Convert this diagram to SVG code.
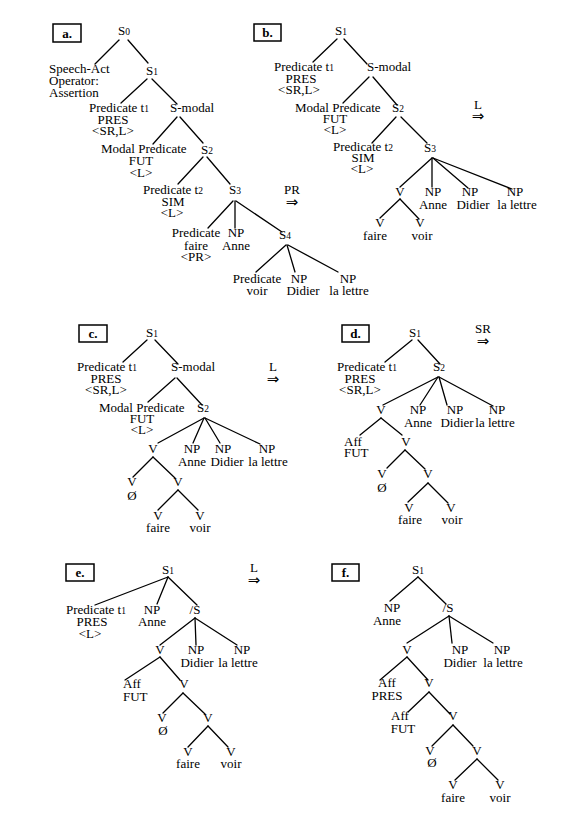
<svg xmlns="http://www.w3.org/2000/svg" width="569" height="820" viewBox="0 0 569 820">
<style>
text{font-family:"Liberation Serif",serif;font-size:13px;fill:#000;text-anchor:middle}
text.l{text-anchor:start}
tspan.s{font-size:9.5px}
.box rect{fill:#fff;stroke:#000;stroke-width:1.5}
.box text{font-weight:bold;font-size:13px}
text.ar{font-family:"DejaVu Sans",sans-serif;font-size:15px}
#connectors line{stroke:#000;stroke-width:1.3;stroke-linecap:round}
</style>
<rect width="569" height="820" fill="#fff"/>
<g id="connectors">
<!-- a -->
<line x1="119" y1="40" x2="95" y2="64"/>
<line x1="128" y1="40" x2="148" y2="63"/>
<line x1="147" y1="79" x2="121" y2="103"/>
<line x1="152" y1="79" x2="177" y2="104"/>
<line x1="177" y1="117" x2="153" y2="144"/>
<line x1="180" y1="117" x2="203" y2="143"/>
<line x1="203" y1="157" x2="178" y2="184"/>
<line x1="207" y1="157" x2="230" y2="184"/>
<line x1="233" y1="201" x2="208" y2="228"/>
<line x1="235" y1="201" x2="235" y2="228"/>
<line x1="236" y1="201" x2="282" y2="232"/>
<line x1="286" y1="245" x2="256" y2="272"/>
<line x1="287" y1="245" x2="295" y2="272"/>
<line x1="288" y1="245" x2="338" y2="272"/>
<!-- b -->
<line x1="337" y1="39" x2="313" y2="62"/>
<line x1="344" y1="39" x2="367" y2="64"/>
<line x1="369" y1="77" x2="343" y2="103"/>
<line x1="373" y1="77" x2="397" y2="105"/>
<line x1="396" y1="117" x2="372" y2="143"/>
<line x1="401" y1="117" x2="427" y2="143"/>
<line x1="432" y1="158" x2="400" y2="187"/>
<line x1="432" y1="158" x2="432" y2="187"/>
<line x1="433" y1="158" x2="468" y2="188"/>
<line x1="433" y1="158" x2="512" y2="189"/>
<line x1="400" y1="199" x2="380" y2="218"/>
<line x1="400" y1="199" x2="419" y2="219"/>
<!-- c -->
<line x1="147" y1="340" x2="123" y2="362"/>
<line x1="155" y1="340" x2="178" y2="364"/>
<line x1="175" y1="378" x2="148" y2="402"/>
<line x1="177" y1="378" x2="202" y2="405"/>
<line x1="204" y1="418" x2="158" y2="443"/>
<line x1="204" y1="418" x2="193" y2="443"/>
<line x1="205" y1="418" x2="220" y2="443"/>
<line x1="205" y1="418" x2="260" y2="444"/>
<line x1="153" y1="457" x2="133" y2="477"/>
<line x1="153" y1="457" x2="175" y2="478"/>
<line x1="178" y1="490" x2="158" y2="510"/>
<line x1="178" y1="490" x2="198" y2="510"/>
<!-- d -->
<line x1="412" y1="340" x2="385" y2="362"/>
<line x1="418" y1="340" x2="440" y2="364"/>
<line x1="438" y1="377" x2="383" y2="405"/>
<line x1="438" y1="377" x2="420" y2="405"/>
<line x1="439" y1="377" x2="447" y2="405"/>
<line x1="439" y1="377" x2="493" y2="406"/>
<line x1="381" y1="418" x2="360" y2="435"/>
<line x1="381" y1="418" x2="402" y2="435"/>
<line x1="405" y1="450" x2="387" y2="468"/>
<line x1="405" y1="450" x2="425" y2="469"/>
<line x1="428" y1="483" x2="408" y2="502"/>
<line x1="428" y1="483" x2="448" y2="503"/>
<!-- e -->
<line x1="168" y1="577" x2="95" y2="605"/>
<line x1="168" y1="577" x2="157" y2="604"/>
<line x1="168" y1="577" x2="197" y2="605"/>
<line x1="195" y1="618" x2="160" y2="645"/>
<line x1="195" y1="618" x2="196" y2="645"/>
<line x1="195" y1="618" x2="237" y2="645"/>
<line x1="160" y1="657" x2="125" y2="680"/>
<line x1="160" y1="657" x2="180" y2="680"/>
<line x1="183" y1="693" x2="163" y2="713"/>
<line x1="183" y1="693" x2="205" y2="714"/>
<line x1="208" y1="726" x2="188" y2="747"/>
<line x1="208" y1="726" x2="228" y2="747"/>
<!-- f -->
<line x1="418" y1="577" x2="390" y2="601"/>
<line x1="418" y1="577" x2="446" y2="604"/>
<line x1="449" y1="616" x2="407" y2="643"/>
<line x1="449" y1="616" x2="452" y2="643"/>
<line x1="449" y1="616" x2="493" y2="643"/>
<line x1="407" y1="657" x2="380" y2="680"/>
<line x1="407" y1="657" x2="428" y2="680"/>
<line x1="429" y1="692" x2="408" y2="712"/>
<line x1="429" y1="692" x2="450" y2="714"/>
<line x1="453" y1="725" x2="432" y2="746"/>
<line x1="453" y1="725" x2="473" y2="746"/>
<line x1="477" y1="759" x2="455" y2="780"/>
<line x1="477" y1="759" x2="498" y2="780"/>
</g>

<!-- Panel a -->
<g id="a-label" class="box"><rect x="53" y="24" width="28" height="18"/><text x="67" y="38">a.</text></g>
<g id="a-s0"><text x="124" y="35">S<tspan class="s">0</tspan></text></g>
<g id="a-speech"><text class="l" x="49" y="73">Speech-Act</text><text class="l" x="49" y="85">Operator:</text><text class="l" x="49" y="97">Assertion</text></g>
<g id="a-s1"><text x="152" y="75">S<tspan class="s">1</tspan></text></g>
<g id="a-pred1"><text class="l" x="89" y="112">Predicate t<tspan class="s">1</tspan></text><text x="113" y="124">PRES</text><text x="113" y="135">&lt;SR,L&gt;</text></g>
<g id="a-smodal"><text x="192" y="112">S-modal</text></g>
<g id="a-modal"><text class="l" x="101" y="153">Modal Predicate</text><text x="141" y="165">FUT</text><text x="141" y="177">&lt;L&gt;</text></g>
<g id="a-s2"><text x="207" y="154">S<tspan class="s">2</tspan></text></g>
<g id="a-pred2"><text class="l" x="143" y="194">Predicate t<tspan class="s">2</tspan></text><text x="173" y="206">SIM</text><text x="172" y="217">&lt;L&gt;</text></g>
<g id="a-s3"><text x="235" y="194">S<tspan class="s">3</tspan></text></g>
<g id="a-pr"><text x="292" y="194">PR</text><text class="ar" x="292" y="207">⇒</text></g>
<g id="a-faire"><text x="196" y="237">Predicate</text><text x="196" y="250">faire</text><text x="196" y="261">&lt;PR&gt;</text></g>
<g id="a-anne"><text x="236" y="237">NP</text><text x="236" y="250">Anne</text></g>
<g id="a-s4"><text x="285" y="239">S<tspan class="s">4</tspan></text></g>
<g id="a-voir"><text x="257" y="283">Predicate</text><text x="257" y="295">voir</text></g>
<g id="a-didier"><text x="299" y="283">NP</text><text x="303" y="295">Didier</text></g>
<g id="a-lettre"><text x="348" y="283">NP</text><text x="349" y="295">la lettre</text></g>

<!-- Panel b -->
<g id="b-label" class="box"><rect x="254" y="24" width="27" height="17"/><text x="267.5" y="37">b.</text></g>
<g id="b-s1"><text x="341" y="35">S<tspan class="s">1</tspan></text></g>
<g id="b-pred1"><text class="l" x="274" y="71">Predicate t<tspan class="s">1</tspan></text><text x="301" y="83">PRES</text><text x="299" y="94">&lt;SR,L&gt;</text></g>
<g id="b-smodal"><text x="389" y="71">S-modal</text></g>
<g id="b-modal"><text class="l" x="295" y="112">Modal Predicate</text><text x="335" y="123">FUT</text><text x="335" y="134">&lt;L&gt;</text></g>
<g id="b-s2"><text x="398" y="112">S<tspan class="s">2</tspan></text></g>
<g id="b-l"><text x="478" y="109">L</text><text class="ar" x="478" y="121">⇒</text></g>
<g id="b-pred2"><text class="l" x="333" y="151">Predicate t<tspan class="s">2</tspan></text><text x="363" y="162">SIM</text><text x="362" y="173">&lt;L&gt;</text></g>
<g id="b-s3"><text x="430" y="152">S<tspan class="s">3</tspan></text></g>
<g id="b-v"><text x="400" y="196">V</text></g>
<g id="b-anne"><text x="433" y="196">NP</text><text x="433" y="209">Anne</text></g>
<g id="b-didier"><text x="470" y="196">NP</text><text x="473" y="209">Didier</text></g>
<g id="b-lettre"><text x="515" y="196">NP</text><text x="517" y="209">la lettre</text></g>
<g id="b-faire"><text x="380" y="227">V</text><text x="375" y="240">faire</text></g>
<g id="b-voir"><text x="420" y="227">V</text><text x="422" y="240">voir</text></g>

<!-- Panel c -->
<g id="c-label" class="box"><rect x="79" y="325" width="28" height="17"/><text x="93" y="338">c.</text></g>
<g id="c-s1"><text x="152" y="337">S<tspan class="s">1</tspan></text></g>
<g id="c-pred1"><text class="l" x="77" y="371">Predicate t<tspan class="s">1</tspan></text><text x="106" y="383">PRES</text><text x="106" y="394">&lt;SR,L&gt;</text></g>
<g id="c-smodal"><text x="193" y="371">S-modal</text></g>
<g id="c-l"><text x="273" y="371">L</text><text class="ar" x="273" y="384">⇒</text></g>
<g id="c-modal"><text class="l" x="99" y="412">Modal Predicate</text><text x="142" y="423">FUT</text><text x="142" y="434">&lt;L&gt;</text></g>
<g id="c-s2"><text x="203" y="412">S<tspan class="s">2</tspan></text></g>
<g id="c-v1"><text x="153" y="453">V</text></g>
<g id="c-anne"><text x="192" y="453">NP</text><text x="192" y="466">Anne</text></g>
<g id="c-didier"><text x="223" y="453">NP</text><text x="227" y="466">Didier</text></g>
<g id="c-lettre"><text x="267" y="453">NP</text><text x="268" y="466">la lettre</text></g>
<g id="c-null"><text x="132" y="486">V</text><text x="132" y="500">Ø</text></g>
<g id="c-v2"><text x="178" y="486">V</text></g>
<g id="c-faire"><text x="158" y="520">V</text><text x="158" y="532">faire</text></g>
<g id="c-voir"><text x="200" y="520">V</text><text x="200" y="532">voir</text></g>

<!-- Panel d -->
<g id="d-label" class="box"><rect x="342" y="325" width="27" height="17"/><text x="355.5" y="338">d.</text></g>
<g id="d-s1"><text x="415" y="337">S<tspan class="s">1</tspan></text></g>
<g id="d-sr"><text x="483" y="333">SR</text><text class="ar" x="483" y="346">⇒</text></g>
<g id="d-pred1"><text class="l" x="337" y="371">Predicate t<tspan class="s">1</tspan></text><text x="360" y="383">PRES</text><text x="360" y="394">&lt;SR,L&gt;</text></g>
<g id="d-s2"><text x="439" y="371">S<tspan class="s">2</tspan></text></g>
<g id="d-v1"><text x="381" y="414">V</text></g>
<g id="d-anne"><text x="418" y="414">NP</text><text x="418" y="427">Anne</text></g>
<g id="d-didier"><text x="455" y="414">NP</text><text x="457" y="427">Didier</text></g>
<g id="d-lettre"><text x="497" y="414">NP</text><text x="495" y="427">la lettre</text></g>
<g id="d-aff"><text class="l" x="344" y="446">Aff</text><text class="l" x="344" y="457">FUT</text></g>
<g id="d-v2"><text x="406" y="446">V</text></g>
<g id="d-null"><text x="382" y="478">V</text><text x="382" y="492">Ø</text></g>
<g id="d-v3"><text x="428" y="478">V</text></g>
<g id="d-faire"><text x="409" y="512">V</text><text x="410" y="524">faire</text></g>
<g id="d-voir"><text x="451" y="512">V</text><text x="452" y="524">voir</text></g>

<!-- Panel e -->
<g id="e-label" class="box"><rect x="66" y="564" width="28" height="17"/><text x="80" y="577">e.</text></g>
<g id="e-s1"><text x="168" y="574">S<tspan class="s">1</tspan></text></g>
<g id="e-l"><text x="254" y="572">L</text><text class="ar" x="254" y="585">⇒</text></g>
<g id="e-pred1"><text class="l" x="66" y="614">Predicate t<tspan class="s">1</tspan></text><text x="92" y="626">PRES</text><text x="90" y="638">&lt;L&gt;</text></g>
<g id="e-anne"><text x="152" y="614">NP</text><text x="152" y="626">Anne</text></g>
<g id="e-slash"><text x="195" y="614">/S</text></g>
<g id="e-v1"><text x="160" y="654">V</text></g>
<g id="e-didier"><text x="196" y="654">NP</text><text x="197" y="667">Didier</text></g>
<g id="e-lettre"><text x="242" y="654">NP</text><text x="238" y="667">la lettre</text></g>
<g id="e-aff"><text class="l" x="123" y="688">Aff</text><text class="l" x="123" y="701">FUT</text></g>
<g id="e-v2"><text x="184" y="688">V</text></g>
<g id="e-null"><text x="162" y="722">V</text><text x="163" y="735">Ø</text></g>
<g id="e-v3"><text x="208" y="722">V</text></g>
<g id="e-faire"><text x="188" y="756">V</text><text x="188" y="768">faire</text></g>
<g id="e-voir"><text x="231" y="756">V</text><text x="231" y="768">voir</text></g>

<!-- Panel f -->
<g id="f-label" class="box"><rect x="332" y="564" width="27" height="17"/><text x="345.5" y="577">f.</text></g>
<g id="f-s1"><text x="418" y="574">S<tspan class="s">1</tspan></text></g>
<g id="f-anne"><text x="392" y="612">NP</text><text x="387" y="625">Anne</text></g>
<g id="f-slash"><text x="448" y="612">/S</text></g>
<g id="f-v1"><text x="407" y="654">V</text></g>
<g id="f-didier"><text x="460" y="654">NP</text><text x="460" y="667">Didier</text></g>
<g id="f-lettre"><text x="502" y="654">NP</text><text x="503" y="667">la lettre</text></g>
<g id="f-aff1"><text x="387" y="687">Aff</text><text x="387" y="700">PRES</text></g>
<g id="f-v2"><text x="429" y="687">V</text></g>
<g id="f-aff2"><text x="400" y="720">Aff</text><text x="403" y="733">FUT</text></g>
<g id="f-v3"><text x="453" y="720">V</text></g>
<g id="f-null"><text x="430" y="755">V</text><text x="432" y="767">Ø</text></g>
<g id="f-v4"><text x="477" y="755">V</text></g>
<g id="f-faire"><text x="453" y="789">V</text><text x="453" y="802">faire</text></g>
<g id="f-voir"><text x="500" y="789">V</text><text x="500" y="802">voir</text></g>
</svg>
